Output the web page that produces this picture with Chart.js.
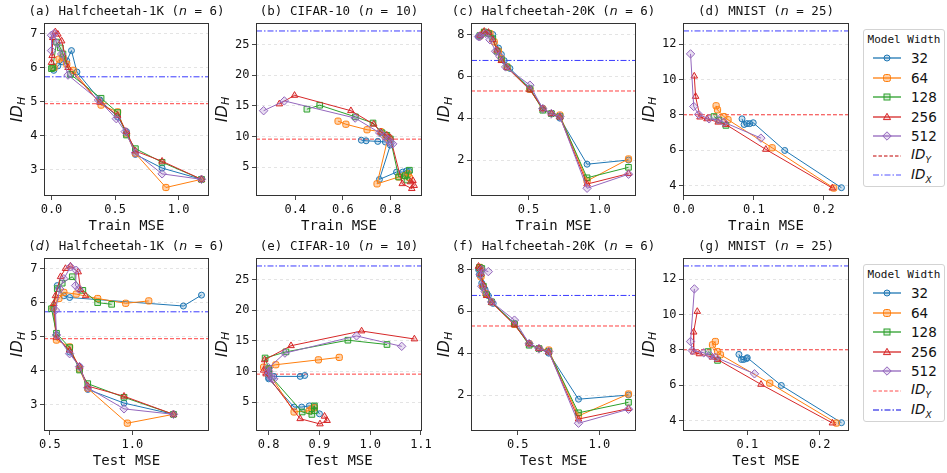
<!DOCTYPE html>
<html>
<head>
<meta charset="utf-8">
<title>ID_H vs MSE</title>
<script src="https://cdn.jsdelivr.net/npm/chart.js@4.4.1/dist/chart.umd.min.js"></script>
<style>
  body { margin: 0; width: 947px; height: 473px; background: #fff; position: relative; overflow: hidden; }
  canvas { position: absolute; }
  .legend { position: absolute; left: 863px; width: 82px; height: 158px; border: 1px solid #d3d3d3; border-radius: 3px; background: #fff; box-sizing: border-box; }
  .legend .ttl { position: absolute; left: 0; right: 0; top: 3px; text-align: center; font: 11px "DejaVu Sans Mono"; color: #111; }
  .legend .row { position: absolute; left: 9px; height: 16px; display: flex; align-items: center; }
  .legend .row span { font: 13.5px "DejaVu Sans"; color: #111; margin-left: 10px; }
  .legend sub { font-size: 9px; }
</style>
</head>
<body>
<div class="legend" id="leg1" style="top:29px"></div>
<div class="legend" id="leg2" style="top:264px"></div>
<script>
const Chart = window.Chart;

// model widths and their styles
const widths = ['32', '64', '128', '256', '512'];
const colors = ['#1f77b4', '#ff7f0e', '#2ca02c', '#d62728', '#9467bd'];
const fills = ['rgba(31,119,180,0.22)', 'rgba(255,127,14,0.35)', 'rgba(44,160,44,0.18)', 'rgba(214,39,40,0.18)', 'rgba(148,103,189,0.22)'];
const markers = ['circle', 'rectRounded', 'rect', 'triangle', 'rectRot'];
const radii = [3, 3.6, 4, 3.8, 4.2];

// reference dimensions: halfcheetah-1K, cifar-10, halfcheetah-20K, mnist
const idY = [4.94, 9.57, 5.30, 8.0];
const idX = [5.73, 27.2, 6.76, 12.75];

// [MSE, ID_H] points, one list per model width (32, 64, 128, 256, 512)
const hc1kTrain = [
  [[1.18,2.72],[0.87,3.05],[0.66,3.45],[0.59,4.12],[0.52,4.55],[0.38,5.05],[0.2,5.87],[0.157,6.5],[0.12,6.2],[0.084,6.17],[0.05,6.05],[0.018,5.92]],
  [[1.18,2.72],[0.90,2.48],[0.66,3.48],[0.59,4.05],[0.52,4.7],[0.39,4.9],[0.17,5.92],[0.12,6.1],[0.09,6.3],[0.06,6.25],[0.02,6.0]],
  [[1.18,2.72],[0.87,3.22],[0.66,3.62],[0.59,4.02],[0.52,4.68],[0.39,5.1],[0.15,5.8],[0.09,6.4],[0.07,6.58],[0.04,6.75],[0.01,6.0],[0.0,5.97]],
  [[1.18,2.72],[0.87,3.25],[0.66,3.55],[0.59,4.12],[0.52,4.6],[0.38,4.98],[0.13,6.0],[0.08,6.78],[0.05,6.98],[0.03,7.05],[0.01,6.88],[0.005,6.35],[0.0,6.15]],
  [[1.18,2.72],[0.87,2.88],[0.66,3.5],[0.58,4.12],[0.51,4.5],[0.37,5.05],[0.13,5.78],[0.08,6.4],[0.04,6.72],[0.02,7.0],[0.0,6.95],[0.0,6.5]]
];
const hc1kTest = [
  [[1.25,2.72],[0.95,3.05],[0.73,3.45],[0.68,4.12],[0.62,4.55],[0.54,5.05],[0.52,5.82],[0.545,6.5],[0.585,6.2],[0.62,6.15],[1.31,5.9],[1.42,6.22]],
  [[1.25,2.72],[0.97,2.46],[0.73,3.48],[0.68,4.05],[0.62,4.7],[0.54,4.9],[0.52,5.85],[0.555,6.12],[0.585,6.3],[0.66,6.25],[0.79,6.12],[0.96,5.98],[1.1,6.05]],
  [[1.25,2.72],[0.95,3.22],[0.73,3.62],[0.68,4.02],[0.62,4.68],[0.54,5.1],[0.51,5.82],[0.545,6.41],[0.575,6.57],[0.636,6.76],[0.70,6.36],[0.79,6.0],[0.875,5.95]],
  [[1.25,2.72],[0.95,3.25],[0.73,3.55],[0.68,4.12],[0.62,4.6],[0.54,4.98],[0.524,5.97],[0.534,6.2],[0.565,6.76],[0.595,7.0],[0.625,7.07],[0.672,6.9],[0.686,6.38],[0.717,6.2]],
  [[1.25,2.72],[0.95,2.88],[0.73,3.5],[0.68,4.12],[0.62,4.5],[0.54,5.05],[0.534,5.78],[0.56,6.4],[0.585,6.7],[0.625,7.05],[0.66,6.95],[0.656,6.5],[0.676,6.4]]
];
const cifarTrain = [
  [[0.678,9.4],[0.698,9.3],[0.747,9.2],[0.779,9.1],[0.80,8.6],[0.754,3.0],[0.826,4.2],[0.852,4.2],[0.868,4.4],[0.88,4.3]],
  [[0.58,12.5],[0.613,12.0],[0.702,11.1],[0.76,10.8],[0.78,10.2],[0.79,9.8],[0.744,2.28],[0.835,3.4],[0.86,3.6],[0.875,3.9],[0.88,3.3]],
  [[0.449,14.45],[0.503,15.1],[0.653,13.2],[0.727,12.2],[0.765,10.6],[0.785,10.2],[0.80,9.6],[0.835,3.4],[0.863,3.6],[0.87,2.9],[0.88,4.5]],
  [[0.333,15.3],[0.397,16.7],[0.634,14.2],[0.73,12.0],[0.76,10.7],[0.785,10.2],[0.80,9.8],[0.85,2.3],[0.89,1.5],[0.90,2.0],[0.895,2.8],[0.885,2.6]],
  [[0.267,14.2],[0.354,15.8],[0.652,13.0],[0.755,10.6],[0.775,10.0],[0.79,9.5],[0.80,8.9],[0.81,8.8]]
];
const cifarTest = [
  [[0.871,9.35],[0.862,9.2],[0.81,9.2],[0.80,9.0],[0.80,8.8],[0.85,4.2],[0.865,4.2],[0.88,4.4],[0.89,4.3],[0.90,3.1]],
  [[0.939,12.3],[0.898,11.9],[0.814,11.1],[0.79,10.7],[0.80,10.2],[0.80,9.8],[0.85,3.4],[0.88,3.6],[0.885,3.9],[0.89,4.1]],
  [[1.033,14.4],[0.956,15.1],[0.834,13.2],[0.793,12.2],[0.80,10.5],[0.80,10.1],[0.80,9.6],[0.866,3.4],[0.885,3.0],[0.89,4.4],[0.89,3.6]],
  [[1.087,15.3],[0.983,16.6],[0.844,14.2],[0.792,11.9],[0.79,10.2],[0.795,9.6],[0.862,2.3],[0.901,1.45],[0.915,2.0],[0.91,2.7]],
  [[1.062,14.1],[0.973,15.8],[0.832,13.0],[0.80,10.6],[0.80,10.0],[0.80,9.5],[0.805,8.9],[0.81,8.8]]
];
const hc20kTrain = [
  [[0.15,7.9],[0.17,7.98],[0.21,8.1],[0.25,8.0],[0.29,7.35],[0.31,7.05],[0.33,6.75],[0.37,6.38],[0.51,5.42],[0.60,4.48],[0.66,4.22],[0.72,4.0],[0.91,1.8],[1.2,2.0]],
  [[0.16,7.92],[0.19,8.1],[0.23,8.05],[0.26,7.65],[0.29,7.2],[0.31,6.85],[0.35,6.45],[0.51,5.38],[0.60,4.45],[0.66,4.22],[0.72,4.15],[0.91,1.0],[1.2,2.05]],
  [[0.16,7.95],[0.19,8.12],[0.22,8.05],[0.25,7.8],[0.28,7.2],[0.31,6.8],[0.35,6.45],[0.51,5.4],[0.60,4.38],[0.66,4.22],[0.72,4.08],[0.91,1.15],[1.2,1.65]],
  [[0.16,7.95],[0.19,8.15],[0.22,8.1],[0.25,7.75],[0.28,7.25],[0.31,6.75],[0.35,6.42],[0.51,5.35],[0.60,4.45],[0.66,4.22],[0.72,4.05],[0.91,0.85],[1.2,1.35]],
  [[0.15,7.9],[0.16,7.9],[0.2,8.05],[0.23,7.75],[0.27,7.2],[0.30,6.95],[0.34,6.45],[0.51,5.58],[0.60,4.45],[0.66,4.22],[0.72,4.08],[0.91,0.65],[1.2,1.32]]
];
const hc20kTest = [
  [[0.26,8.0],[0.265,7.75],[0.28,7.35],[0.30,7.05],[0.32,6.75],[0.35,6.38],[0.48,5.42],[0.57,4.48],[0.63,4.22],[0.69,4.0],[0.872,1.8],[1.178,2.0]],
  [[0.27,8.1],[0.275,7.65],[0.285,7.2],[0.305,6.85],[0.34,6.45],[0.48,5.38],[0.57,4.45],[0.63,4.22],[0.69,4.15],[0.872,1.0],[1.178,2.05]],
  [[0.265,8.1],[0.28,8.05],[0.275,7.8],[0.29,7.2],[0.31,6.8],[0.34,6.45],[0.48,5.4],[0.57,4.38],[0.63,4.22],[0.69,4.08],[0.872,1.15],[1.178,1.65]],
  [[0.26,8.15],[0.27,8.05],[0.275,7.8],[0.29,7.25],[0.31,6.75],[0.34,6.42],[0.48,5.35],[0.57,4.45],[0.63,4.22],[0.69,4.05],[0.872,0.85],[1.178,1.35]],
  [[0.32,7.9],[0.28,8.0],[0.27,7.75],[0.28,7.2],[0.30,6.95],[0.34,6.45],[0.48,5.58],[0.57,4.45],[0.63,4.22],[0.69,4.08],[0.872,0.65],[1.178,1.32]]
];
const mnistTrain = [
  [[0.083,7.77],[0.086,7.45],[0.09,7.5],[0.094,7.5],[0.099,7.55],[0.144,5.98],[0.225,3.87]],
  [[0.046,8.51],[0.048,8.28],[0.057,7.9],[0.063,7.72],[0.126,6.13],[0.214,3.85]],
  [[0.043,7.9],[0.05,7.7],[0.06,7.4]],
  [[0.0148,10.19],[0.0167,9.04],[0.023,7.87],[0.033,7.77],[0.049,7.58],[0.06,7.45],[0.117,6.04],[0.212,3.85]],
  [[0.0095,11.45],[0.014,8.47],[0.021,8.02],[0.036,7.77],[0.049,7.72],[0.057,7.58],[0.11,6.68]]
];
const mnistTest = [
  [[0.0885,7.74],[0.092,7.45],[0.095,7.45],[0.099,7.5],[0.1,7.55],[0.147,5.98],[0.23,3.87]],
  [[0.056,8.47],[0.052,8.28],[0.059,7.9],[0.063,7.72],[0.131,6.11],[0.223,3.85]],
  [[0.046,7.9],[0.059,7.4]],
  [[0.031,10.17],[0.026,9.0],[0.026,7.87],[0.034,7.77],[0.052,7.58],[0.059,7.45],[0.119,6.04],[0.2175,3.85]],
  [[0.027,11.45],[0.0217,8.47],[0.024,7.96],[0.04,7.83],[0.049,7.68],[0.056,7.58],[0.11,6.64]]
];

// tick labels
const yTicks = [[3, 4, 5, 6, 7], [5, 10, 15, 20, 25], [2, 4, 6, 8], [4, 6, 8, 10, 12]];
const xTicksTrain = [[0, 0.5, 1.0], [0.4, 0.6, 0.8], [0.5, 1.0], [0, 0.1, 0.2]];
const xTicksTest = [[0.5, 1.0], [0.8, 0.9, 1.0, 1.1], [0.5, 1.0], [0.1, 0.2]];

const names = ['Halfcheetah-1K', 'CIFAR-10', 'Halfcheetah-20K', 'MNIST'];
const nDims = [6, 10, 6, 25];

const panels = [
  { letter: 'a', data: hc1kTrain, set: 0, row: 0, col: 0, xl: 'Train MSE', xt: xTicksTrain[0], x: [-0.059, 1.239], y: [2.23, 7.31] },
  { letter: 'b', data: cifarTrain, set: 1, row: 0, col: 1, xl: 'Train MSE', xt: xTicksTrain[1], x: [0.235, 0.933], y: [0.3, 28.5] },
  { letter: 'c', data: hc20kTrain, set: 2, row: 0, col: 2, xl: 'Train MSE', xt: xTicksTrain[2], x: [0.0975, 1.2525], y: [0.28, 8.55] },
  { letter: 'd', data: mnistTrain, set: 3, row: 0, col: 3, xl: 'Train MSE', xt: xTicksTrain[3], x: [-0.0013, 0.2358], y: [3.4, 13.2] },
  { letter: 'd', italic: true, data: hc1kTest, set: 0, row: 1, col: 0, xl: 'Test MSE', xt: xTicksTest[0], x: [0.4645, 1.4655], y: [2.23, 7.31] },
  { letter: 'e', data: cifarTest, set: 1, row: 1, col: 1, xl: 'Test MSE', xt: xTicksTest[1], x: [0.775, 1.102], y: [0.3, 28.5] },
  { letter: 'f', data: hc20kTest, set: 2, row: 1, col: 2, xl: 'Test MSE', xt: xTicksTest[2], x: [0.214, 1.224], y: [0.28, 8.55] },
  { letter: 'g', data: mnistTest, set: 3, row: 1, col: 3, xl: 'Test MSE', xt: xTicksTest[3], x: [0.0113, 0.2404], y: [3.4, 13.2] }
];

// plot area layout
const colLeft = [44, 256, 471, 683];
const colWidth = [165, 166, 165, 166];
const rowTop = [23, 258];
const plotH = 173;
const padRight = 30;
const tickFont = { family: 'DejaVu Sans Mono', size: 12 };

// box around the plot area
const frame = {
  id: 'frame',
  afterDatasetsDraw(chart) {
    const { ctx, chartArea: a } = chart;
    ctx.save();
    ctx.strokeStyle = '#333';
    ctx.lineWidth = 1;
    ctx.strokeRect(Math.round(a.left) + 0.5, Math.round(a.top) + 0.5, Math.round(a.right - a.left) - 1, Math.round(a.bottom - a.top) - 1);
    ctx.restore();
  }
};

// title with italic n, and the ID_H axis label with a subscript
const panelText = {
  id: 'panelText',
  afterDraw(chart, args, opts) {
    const { ctx, chartArea: a } = chart;
    ctx.save();
    ctx.fillStyle = '#111';
    ctx.textBaseline = 'middle';
    const mono = '12.5px "DejaVu Sans Mono"';
    const parts = [
      ['(', mono],
      [opts.letter, opts.italic ? 'italic 12.5px "DejaVu Sans"' : mono],
      [') ' + opts.name + ' (', mono],
      ['n', 'italic 12.5px "DejaVu Sans"'],
      [' = ' + opts.n + ')', mono]
    ];
    let total = 0;
    parts.forEach(p => { ctx.font = p[1]; total += ctx.measureText(p[0]).width; });
    let x = (a.left + a.right) / 2 - total / 2;
    parts.forEach(p => { ctx.font = p[1]; ctx.fillText(p[0], x, a.top - 11); x += ctx.measureText(p[0]).width; });

    // y label
    ctx.font = '12px "DejaVu Sans Mono"';
    let widest = 0;
    opts.yt.forEach(v => { widest = Math.max(widest, ctx.measureText(String(v)).width); });
    const lx = a.left - 7 - widest - 12;
    ctx.translate(lx, (a.top + a.bottom) / 2);
    ctx.rotate(-Math.PI / 2);
    ctx.font = 'italic 16px "DejaVu Sans"';
    const w1 = ctx.measureText('ID').width;
    ctx.font = 'italic 11px "DejaVu Sans"';
    const w2 = ctx.measureText('H').width;
    let sx = -(w1 + w2) / 2;
    ctx.font = 'italic 16px "DejaVu Sans"';
    ctx.fillText('ID', sx, 0);
    ctx.font = 'italic 11px "DejaVu Sans"';
    ctx.fillText('H', sx + w1, 4);
    ctx.restore();
  }
};

function makePanel(p) {
  const yw = p.col === 0 ? 44 : 50;
  const w = colWidth[p.col];
  const canvas = document.createElement('canvas');
  canvas.width = w + yw + padRight;
  canvas.height = plotH + 23 + 42;
  canvas.style.left = (colLeft[p.col] - yw) + 'px';
  canvas.style.top = (rowTop[p.row] - 23) + 'px';
  document.body.appendChild(canvas);

  const datasets = p.data.map((pts, i) => ({
    label: widths[i],
    data: pts.map(([x, y]) => ({ x: x, y: y })),
    showLine: true,
    borderColor: colors[i],
    backgroundColor: fills[i],
    borderWidth: 1,
    pointStyle: markers[i],
    pointRadius: radii[i],
    pointBorderWidth: 1,
    pointBorderColor: colors[i],
    pointBackgroundColor: fills[i],
    order: 5 - i
  }));
  datasets.push({
    label: 'ID_Y',
    data: [{ x: p.x[0], y: idY[p.set] }, { x: p.x[1], y: idY[p.set] }],
    showLine: true, borderColor: 'rgba(255,0,0,0.75)', borderWidth: 1, borderDash: [4, 2],
    pointRadius: 0, order: 10
  });
  datasets.push({
    label: 'ID_X',
    data: [{ x: p.x[0], y: idX[p.set] }, { x: p.x[1], y: idX[p.set] }],
    showLine: true, borderColor: '#3a3aff', borderWidth: 1, borderDash: [6, 2, 1.5, 2],
    pointRadius: 0, order: 10
  });

  return new Chart(canvas, {
    type: 'scatter',
    data: { datasets: datasets },
    options: {
      responsive: false,
      animation: false,
      events: [],
      layout: { padding: { top: 23, right: padRight, left: 0, bottom: 0 } },
      plugins: {
        legend: { display: false },
        tooltip: { enabled: false },
        panelText: { letter: p.letter, italic: p.italic, name: names[p.set], n: nDims[p.set], yt: yTicks[p.set] }
      },
      scales: {
        x: {
          type: 'linear', min: p.x[0], max: p.x[1],
          afterBuildTicks: s => { s.ticks = p.xt.map(v => ({ value: v })); },
          afterFit: s => { s.height = 42; },
          ticks: { callback: v => v.toFixed(1), font: tickFont, color: '#111', padding: 3, maxRotation: 0, autoSkip: false },
          grid: { drawOnChartArea: false, tickLength: 4, tickColor: '#333', tickWidth: 0.9 },
          border: { display: false },
          title: { display: true, text: p.xl, font: { family: 'DejaVu Sans Mono', size: 14 }, color: '#111', padding: { top: 0, bottom: 3 } }
        },
        y: {
          type: 'linear', min: p.y[0], max: p.y[1],
          afterBuildTicks: s => { s.ticks = yTicks[p.set].map(v => ({ value: v })); },
          afterFit: s => { s.width = yw; },
          ticks: { callback: v => String(v), font: tickFont, color: '#111', padding: 2.5, autoSkip: false },
          grid: { color: '#dddddd', lineWidth: 0.8, tickLength: 4, tickColor: '#333', tickWidth: 0.9, tickBorderDash: [] },
          border: { display: false, dash: [3, 3] }
        }
      }
    },
    plugins: [frame, panelText]
  });
}

panels.forEach(makePanel);

// legends
function markerSvg(i) {
  const c = colors[i], f = fills[i];
  const st = `fill="${f}" stroke="${c}" stroke-width="1"`;
  if (markers[i] === 'circle') return `<circle cx="14" cy="6" r="3" ${st}/>`;
  if (markers[i] === 'rectRounded') return `<rect x="10.5" y="2.5" width="7" height="7" rx="2" ${st}/>`;
  if (markers[i] === 'rect') return `<rect x="11" y="3" width="6" height="6" ${st}/>`;
  if (markers[i] === 'triangle') return `<polygon points="14,2.3 17.6,8.6 10.4,8.6" ${st}/>`;
  return `<polygon points="14,1.8 18.2,6 14,10.2 9.8,6" ${st}/>`;
}

function buildLegend(el, yColor, xColor) {
  let html = '<div class="ttl">Model Width</div>';
  const rows = widths.map((wd, i) => [
    `<line x1="0" y1="6" x2="28" y2="6" stroke="${colors[i]}" stroke-width="1.3"/>` + markerSvg(i), wd
  ]);
  rows.push([`<line x1="0" y1="6" x2="28" y2="6" stroke="${yColor}" stroke-width="1" stroke-dasharray="3.5 2"/>`, '<i>ID<sub>Y</sub></i>']);
  rows.push([`<line x1="0" y1="6" x2="28" y2="6" stroke="${xColor}" stroke-width="1" stroke-dasharray="6 2 1.5 2"/>`, '<i>ID<sub>X</sub></i>']);
  rows.forEach((r, i) => {
    const top = 28.3 + 19.5 * i - 8;
    html += `<div class="row" style="top:${top}px"><svg width="28" height="12">${r[0]}</svg><span>${r[1]}</span></div>`;
  });
  el.innerHTML = html;
}

buildLegend(document.getElementById('leg1'), '#c00000', 'rgba(40,40,255,0.8)');
buildLegend(document.getElementById('leg2'), 'rgba(255,0,0,0.7)', '#0000e0');
</script>
</body>
</html>
